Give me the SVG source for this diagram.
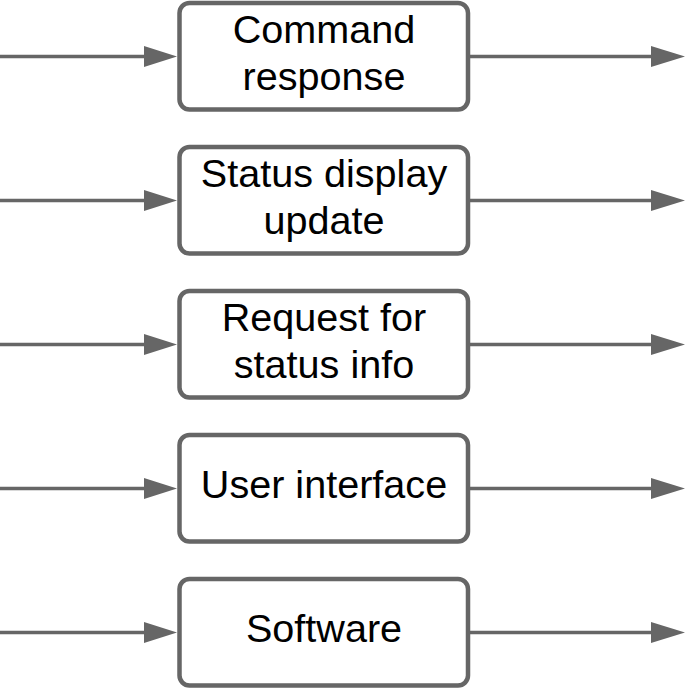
<svg xmlns="http://www.w3.org/2000/svg" width="685" height="689" viewBox="0 0 685 689">
<defs>
<style>
.box{fill:#fff;stroke:#666;stroke-width:4.5}
.ln{stroke:#666;stroke-width:3.5;fill:none}
.ah{fill:#666}
text{font-family:"Liberation Sans",Arial,sans-serif;font-size:39.6px;fill:#000;text-anchor:middle}
</style>
</defs>
<rect width="685" height="689" fill="#fff"/>
<g id="connectors">
<line class="ln" x1="0" y1="56.5" x2="146" y2="56.5"/><polygon class="ah" points="144,46 177,56.5 144,67"/>
<line class="ln" x1="470" y1="56.5" x2="653" y2="56.5"/><polygon class="ah" points="651,46 685,56.5 651,67"/>
<line class="ln" x1="0" y1="200.5" x2="146" y2="200.5"/><polygon class="ah" points="144,190 177,200.5 144,211"/>
<line class="ln" x1="470" y1="200.5" x2="653" y2="200.5"/><polygon class="ah" points="651,190 685,200.5 651,211"/>
<line class="ln" x1="0" y1="344.5" x2="146" y2="344.5"/><polygon class="ah" points="144,334 177,344.5 144,355"/>
<line class="ln" x1="470" y1="344.5" x2="653" y2="344.5"/><polygon class="ah" points="651,334 685,344.5 651,355"/>
<line class="ln" x1="0" y1="488.5" x2="146" y2="488.5"/><polygon class="ah" points="144,478 177,488.5 144,499"/>
<line class="ln" x1="470" y1="488.5" x2="653" y2="488.5"/><polygon class="ah" points="651,478 685,488.5 651,499"/>
<line class="ln" x1="0" y1="632.5" x2="146" y2="632.5"/><polygon class="ah" points="144,622 177,632.5 144,643"/>
<line class="ln" x1="470" y1="632.5" x2="653" y2="632.5"/><polygon class="ah" points="651,622 685,632.5 651,643"/>
</g>
<g id="n1"><rect class="box" x="179.5" y="3" width="288.5" height="106.5" rx="10"/><text x="324" y="43.3">Command</text><text x="324" y="90">response</text></g>
<g id="n2"><rect class="box" x="179.5" y="147" width="288.5" height="106.5" rx="10"/><text x="324" y="187.3">Status display</text><text x="324" y="234">update</text></g>
<g id="n3"><rect class="box" x="179.5" y="291" width="288.5" height="106.5" rx="10"/><text x="324" y="331.3">Request for</text><text x="324" y="378">status info</text></g>
<g id="n4"><rect class="box" x="179.5" y="435" width="288.5" height="106.5" rx="10"/><text x="324" y="498">User interface</text></g>
<g id="n5"><rect class="box" x="179.5" y="579" width="288.5" height="106.5" rx="10"/><text x="324" y="642">Software</text></g>
</svg>
